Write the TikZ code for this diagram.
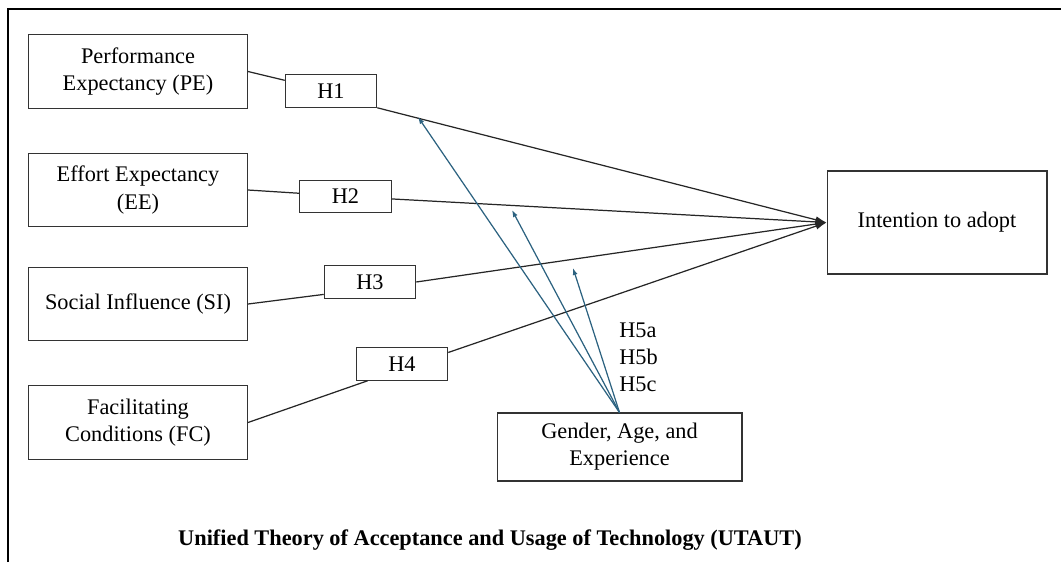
\documentclass[tikz,border=0pt]{standalone}
\usepackage{fontspec}
\setmainfont{Liberation Serif}
\usepackage{xcolor}
\usetikzlibrary{arrows.meta,shapes}
\definecolor{modblue}{RGB}{44,98,128}

\begin{document}
\begin{tikzpicture}[x=0.02cm, y=-0.02cm, font=\fontsize{12.7}{15.4}\selectfont, factor node/.style={draw=black!80, line width=0.6pt, align=center, minimum width=4.38cm, minimum height=1.47cm, inner sep=2pt}, hyp node/.style={draw=black!80, line width=0.6pt, minimum width=1.83cm, minimum height=0.65cm, inner sep=1pt}, path line/.style={-{Latex[length=2.2mm,width=1.4mm]}, line width=0.7pt, black!85}, mod line/.style={-{Latex[length=1.4mm,width=1mm]}, line width=0.7pt, modblue}]
\useasboundingbox (0,0) rectangle (1061,562);
\draw[line width=0.9pt] (8,562) -- (8,9) -- (1061,9);
\node[factor node] (pe) at (138,71.5) {Performance\\Expectancy (PE)};
\node[factor node] (ee) at (138,190) {Effort Expectancy\\(EE)};
\node[factor node] (si) at (138,304) {Social Influence (SI)};
\node[factor node] (fc) at (138,422.5) {Facilitating\\Conditions (FC)};
\node[hyp node] (h1) at (331,91) {H1};
\node[hyp node] (h2) at (345.5,196.5) {H2};
\node[hyp node] (h3) at (370,282) {H3};
\node[hyp node] (h4) at (402,364) {H4};
\node[factor node, minimum width=4.4cm, minimum height=2.06cm] (ita) at (937,222.5) {Intention to adopt};
\node[factor node, minimum width=4.9cm, minimum height=1.36cm] (gae) at (619.5,447) {Gender, Age, and\\Experience};
\node[anchor=west, align=left, inner sep=0pt] (h5) at (619,357) {H5a\\H5b\\H5c};
\node[font=\fontsize{12.7}{15.4}\selectfont\bfseries] (title) at (490,540) {Unified Theory of Acceptance and Usage of Technology (UTAUT)};
\coordinate (m1) at (418,117);
\coordinate (m2) at (512,210);
\coordinate (m3) at (573,268);
\path[line width=0.7pt, black!85]
(pe.east) edge (h1.167)
(ee.east) edge (h2.176)
(si.east) edge (h3.195)
(fc.east) edge (h4.206);
\path
(h1.south east) edge[path line] (ita.west)
(h2.-3) edge[path line] (ita.west)
(h3.east) edge[path line] (ita.west)
(h4.14) edge[path line] (ita.west);
\path
(gae.north) edge[mod line] (m1)
(gae.north) edge[mod line] (m2)
(gae.north) edge[mod line] (m3);
\end{tikzpicture}
\end{document}
